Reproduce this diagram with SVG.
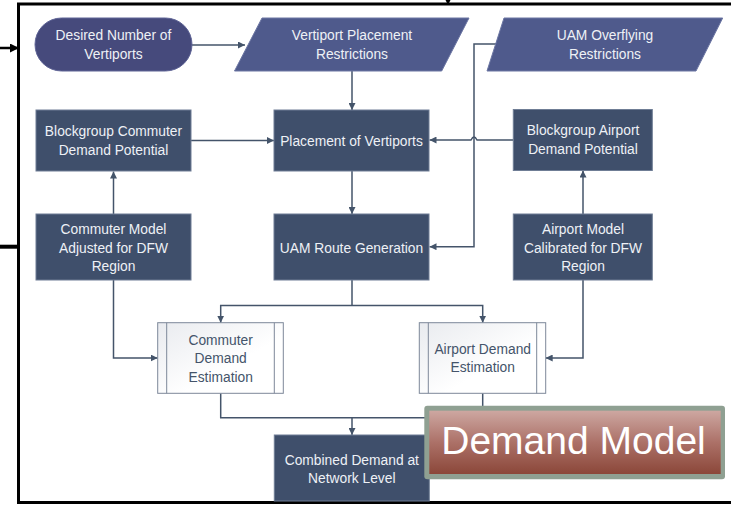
<svg xmlns="http://www.w3.org/2000/svg" width="731" height="505" viewBox="0 0 731 505">
  <defs>
    <style>
      .lbl { font-family: "Liberation Sans", Arial, sans-serif; font-size: 13.8px; text-anchor: middle; }
      .lt { fill: #eef1f6; }
      .dk { fill: #44546a; }
      .proc { fill: #3f4f6b; stroke: #6f7d95; stroke-width: 1; }
      .sub { fill: url(#subFill); stroke: #7d8899; stroke-width: 1; }
      .sub-edge { stroke: #7d8899; stroke-width: 1; fill: none; }
      .io { fill: #4f5a8c; stroke: #6c76a3; stroke-width: 1; }
      .term { fill: #464a7c; stroke: #5f6496; stroke-width: 1; }
      .wire { fill: none; stroke: #44546a; stroke-width: 1.5; }
      .wire-a { fill: none; stroke: #44546a; stroke-width: 1.5; marker-end: url(#arr); }
      .frame { fill: none; stroke: #000; stroke-width: 3; }
    </style>
    <marker id="arr" viewBox="0 0 10 10" refX="10" refY="5" markerWidth="7" markerHeight="7" markerUnits="userSpaceOnUse" orient="auto">
      <path d="M0,0 L10,5 L0,10 z" fill="#44546a"/>
    </marker>
    <marker id="arrBlk" viewBox="0 0 10 10" refX="10" refY="5" markerWidth="9" markerHeight="9" markerUnits="userSpaceOnUse" orient="auto">
      <path d="M0,0 L10,5 L0,10 z" fill="#000"/>
    </marker>
    <linearGradient id="subFill" x1="0" y1="0" x2="1" y2="1">
      <stop offset="0" stop-color="#e9ebef"/>
      <stop offset="0.6" stop-color="#ffffff"/>
      <stop offset="1" stop-color="#ffffff"/>
    </linearGradient>
    <linearGradient id="redFill" x1="0" y1="0" x2="0" y2="1">
      <stop offset="0" stop-color="#cda7a1"/>
      <stop offset="0.5" stop-color="#ac7168"/>
      <stop offset="1" stop-color="#8b4739"/>
    </linearGradient>
    <filter id="soft" x="-50%" y="-50%" width="200%" height="200%">
      <feGaussianBlur stdDeviation="3"/>
    </filter>
  </defs>

  <rect x="0" y="0" width="731" height="505" fill="#ffffff"/>

  <!-- outer frame and incoming links -->
  <g id="frame">
    <line x1="15" y1="4" x2="15" y2="502" stroke="#999" stroke-width="4" opacity="0.5" filter="url(#soft)"/>
    <line x1="0" y1="247" x2="18" y2="247" stroke="#888" stroke-width="6" opacity="0.6" filter="url(#soft)"/>
    <polyline class="frame" points="731,4 18.5,4 18.5,502.5 731,502.5"/>
    <line x1="0" y1="246.7" x2="17" y2="246.7" stroke="#000" stroke-width="4"/>
    <line x1="0" y1="48" x2="19" y2="48" stroke="#000" stroke-width="2.5" marker-end="url(#arrBlk)"/>
    <line x1="448" y1="0" x2="448" y2="5" stroke="#000" stroke-width="2" marker-end="url(#arrBlk)"/>
  </g>

  <!-- connectors -->
  <g id="connectors">
    <line class="wire-a" x1="192" y1="45" x2="245" y2="45"/>
    <line class="wire-a" x1="352" y1="71" x2="352" y2="110"/>
    <polyline class="wire-a" points="499,44 474,44 474,246.7 429.5,246.7"/>
    <path class="wire-a" d="M513,140 L477,140 Q474,134 471,140 L429.5,140"/>
    <line class="wire-a" x1="191" y1="140.5" x2="274" y2="140.5"/>
    <line class="wire-a" x1="352" y1="171" x2="352" y2="214"/>
    <line class="wire-a" x1="113.5" y1="214" x2="113.5" y2="171.5"/>
    <line class="wire-a" x1="583" y1="214" x2="583" y2="170.5"/>
    <polyline class="wire" points="352,280 352,305.5"/>
    <polyline class="wire-a" points="352,305.5 220.7,305.5 220.7,322.7"/>
    <polyline class="wire-a" points="352,305.5 482.7,305.5 482.7,322.7"/>
    <polyline class="wire-a" points="113.5,280 113.5,358 157.7,358"/>
    <polyline class="wire-a" points="583,280 583,358 545.7,358"/>
    <polyline class="wire" points="220.7,393.3 220.7,417.7 482.7,417.7 482.7,393.3"/>
    <line class="wire-a" x1="352" y1="417.7" x2="352" y2="435"/>
  </g>

  <!-- nodes -->
  <g id="desired-vertiports">
    <rect class="term" x="35" y="18" width="157" height="53" rx="26.5"/>
    <text class="lbl lt" x="113.5" y="39.5">Desired Number of</text>
    <text class="lbl lt" x="113.5" y="59">Vertiports</text>
  </g>

  <g id="placement-restrictions">
    <polygon class="io" points="262,18 469,18 441.7,71 234.5,71"/>
    <text class="lbl lt" x="352" y="40">Vertiport Placement</text>
    <text class="lbl lt" x="352" y="59">Restrictions</text>
  </g>

  <g id="overflying-restrictions">
    <polygon class="io" points="504,18 722.7,18 696,71 487,71"/>
    <text class="lbl lt" x="605" y="40">UAM Overflying</text>
    <text class="lbl lt" x="605" y="59">Restrictions</text>
  </g>

  <g id="commuter-potential">
    <rect class="proc" x="36" y="110" width="155" height="61"/>
    <text class="lbl lt" x="113.5" y="136">Blockgroup Commuter</text>
    <text class="lbl lt" x="113.5" y="155">Demand Potential</text>
  </g>

  <g id="vertiport-placement">
    <rect class="proc" x="274" y="110" width="155" height="61"/>
    <text class="lbl lt" x="351.5" y="145.5">Placement of Vertiports</text>
  </g>

  <g id="airport-potential">
    <rect class="proc" x="513.3" y="109.5" width="139" height="61"/>
    <text class="lbl lt" x="583" y="135.3">Blockgroup Airport</text>
    <text class="lbl lt" x="583" y="154">Demand Potential</text>
  </g>

  <g id="commuter-model">
    <rect class="proc" x="36" y="214" width="155" height="66"/>
    <text class="lbl lt" x="113.5" y="234">Commuter Model</text>
    <text class="lbl lt" x="113.5" y="252.7">Adjusted for DFW</text>
    <text class="lbl lt" x="113.5" y="271">Region</text>
  </g>

  <g id="route-generation">
    <rect class="proc" x="274" y="214" width="155" height="66"/>
    <text class="lbl lt" x="351.5" y="252.7">UAM Route Generation</text>
  </g>

  <g id="airport-model">
    <rect class="proc" x="513.3" y="214" width="139" height="66"/>
    <text class="lbl lt" x="583" y="234">Airport Model</text>
    <text class="lbl lt" x="583" y="252.7">Calibrated for DFW</text>
    <text class="lbl lt" x="583" y="271">Region</text>
  </g>

  <g id="commuter-estimation">
    <rect class="sub" x="157.7" y="322.7" width="125.6" height="70.6"/>
    <line class="sub-edge" x1="166.7" y1="322.7" x2="166.7" y2="393.3"/>
    <line class="sub-edge" x1="274.3" y1="322.7" x2="274.3" y2="393.3"/>
    <text class="lbl dk" x="220.7" y="345">Commuter</text>
    <text class="lbl dk" x="220.7" y="363.3">Demand</text>
    <text class="lbl dk" x="220.7" y="381.7">Estimation</text>
  </g>

  <g id="airport-estimation">
    <rect class="sub" x="419.3" y="322.7" width="126.4" height="70.6"/>
    <line class="sub-edge" x1="428.3" y1="322.7" x2="428.3" y2="393.3"/>
    <line class="sub-edge" x1="536.7" y1="322.7" x2="536.7" y2="393.3"/>
    <text class="lbl dk" x="482.7" y="354">Airport Demand</text>
    <text class="lbl dk" x="482.7" y="372.3">Estimation</text>
  </g>

  <g id="combined-demand">
    <rect class="proc" x="274.3" y="435" width="155" height="66"/>
    <text class="lbl lt" x="351.8" y="465">Combined Demand at</text>
    <text class="lbl lt" x="351.8" y="483.3">Network Level</text>
  </g>

  <!-- title badge -->
  <g id="demand-model">
    <rect x="424.3" y="405.7" width="300.7" height="73.6" rx="3" fill="#8fa092"/>
    <rect x="429.3" y="410.7" width="291.4" height="63.3" fill="url(#redFill)"/>
    <text x="573.5" y="454" font-family="Liberation Sans, Arial, sans-serif" font-size="39" fill="#ffffff" text-anchor="middle">Demand Model</text>
  </g>
</svg>
